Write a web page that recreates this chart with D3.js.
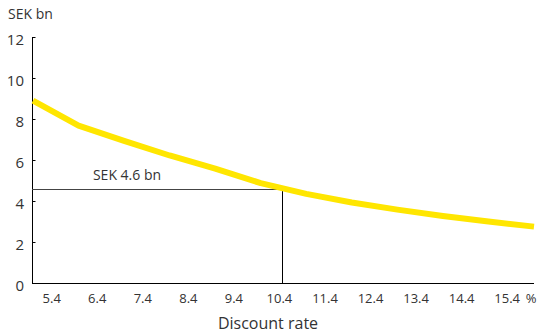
<!DOCTYPE html>
<html><head><meta charset="utf-8">
<script src="https://cdn.jsdelivr.net/npm/d3@7/dist/d3.min.js"></script>
<style>
html,body{margin:0;padding:0;background:#fff;}
svg text{font-family:"Open Sans","Noto Sans",sans-serif;fill:#333;}
</style></head>
<body><svg id="c" width="537" height="335"></svg>
<script>
const rates  = [5, 6, 7, 8, 9, 10, 11, 12, 13, 14, 15, 16];
const values = [8.9, 7.68, 6.93, 6.22, 5.58, 4.87, 4.35, 3.93, 3.58, 3.27, 3.0, 2.75];
const xTicks = [5.4, 6.4, 7.4, 8.4, 9.4, 10.4, 11.4, 12.4, 13.4, 14.4, 15.4];
const yTicks = [0, 2, 4, 6, 8, 10, 12];
const markRate = 10.47;
const markValue = 4.6;
const markLabel = "SEK 4.6 bn";
const yTitle = "SEK bn";
const xTitle = "Discount rate";

const svg = d3.select("#c");
const x = d3.scaleLinear().domain([5, 16]).range([33, 534]);
const y = d3.scaleLinear().domain([0, 12]).range([283, 37]);

// y axis
const yAxis = d3.axisRight(y).tickValues(yTicks).tickSize(3).tickFormat("");
const gy = svg.append("g").attr("transform", "translate(32.5,0)").call(yAxis);
gy.select(".domain").attr("stroke", "#000").attr("d", `M0,${y(12)}V${y(0)}`);
gy.selectAll(".tick line").attr("stroke", "#000");
svg.selectAll(".ylab").data(yTicks).enter().append("text")
  .attr("x", 24).attr("y", d => y(d) + 3).attr("dy", "0.35em")
  .attr("text-anchor", "end").style("font-size", "15px").text(d => d);

// x axis
const xAxis = d3.axisBottom(x).tickValues(xTicks).tickSize(0).tickPadding(10).tickFormat(d => d.toFixed(1));
const gx = svg.append("g").attr("transform", `translate(0,${y(0) + 0.5})`).call(xAxis);
gx.select(".domain").attr("stroke", "#000").attr("d", "M32,0H534");
gx.selectAll("text").style("font-size", "13px").attr("fill", "#333")
  .style("font-family", '"Open Sans","Noto Sans",sans-serif');
svg.append("text").attr("x", 531).attr("y", 303).attr("text-anchor", "middle")
  .style("font-size", "13px").text("%");

// titles
svg.append("text").attr("x", 8).attr("y", 19).style("font-size", "14px").text(yTitle);
svg.append("text").attr("x", 268).attr("y", 329).attr("text-anchor", "middle")
  .style("font-size", "16px").text(xTitle);

// reference lines
svg.append("line").attr("x1", x(5) - 1).attr("x2", x(markRate))
  .attr("y1", Math.round(y(markValue)) + 0.5).attr("y2", Math.round(y(markValue)) + 0.5)
  .attr("stroke", "#444").attr("stroke-width", 1);
svg.append("line").attr("x1", Math.round(x(markRate)) + 0.5).attr("x2", Math.round(x(markRate)) + 0.5)
  .attr("y1", Math.round(y(markValue))).attr("y2", y(0))
  .attr("stroke", "#000").attr("stroke-width", 1);
svg.append("text").attr("x", 127).attr("y", 180).attr("text-anchor", "middle")
  .style("font-size", "14px").text(markLabel);

// curve
const line = d3.line().x((d, i) => x(rates[i])).y(d => y(d));
svg.append("path").datum(values).attr("d", line)
  .attr("fill", "none").attr("stroke", "#FFE600").attr("stroke-width", 6)
  .attr("stroke-linejoin", "round");
</script></body></html>
